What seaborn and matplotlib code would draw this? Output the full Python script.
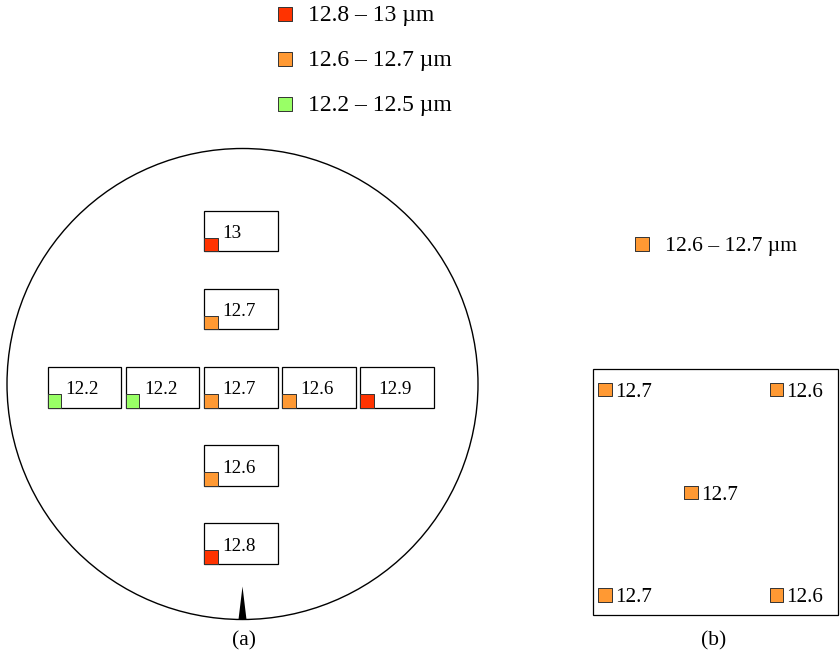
import matplotlib
matplotlib.use("Agg")
import matplotlib.pyplot as plt
from matplotlib.patches import Circle, Rectangle, Polygon
import seaborn as sns
import pandas as pd

sns.set_theme(style="white")
plt.rcParams["font.family"] = ["Liberation Serif", "DejaVu Serif"]
plt.rcParams["text.color"] = "black"

# Thickness classes
bin_labels = ["12.8 – 13 µm", "12.6 – 12.7 µm", "12.2 – 12.5 µm"]
bin_colors = ["#FF3300", "#FF9933", "#99FF66"]

# (a) wafer: die sites on a cross pattern (grid column / row index)
wafer_col = [0, 0, -2, -1, 0, 1, 2, 0, 0]
wafer_row = [-2, -1, 0, 0, 0, 0, 0, 1, 2]
wafer_thk = [13, 12.7, 12.2, 12.2, 12.7, 12.6, 12.9, 12.6, 12.8]
wafer_txt = ["13", "12.7", "12.2", "12.2", "12.7", "12.6", "12.9", "12.6", "12.8"]

# (b) square sample: four corners and centre (relative position 0..1)
sq_u = [0, 1, 0.5, 0, 1]
sq_v = [0, 0, 0.5, 1, 1]
sq_thk = [12.7, 12.6, 12.7, 12.7, 12.6]
sq_txt = ["12.7", "12.6", "12.7", "12.7", "12.6"]


def classify(t):
    if t >= 12.8:
        return bin_labels[0]
    if t >= 12.6:
        return bin_labels[1]
    return bin_labels[2]


palette = dict(zip(bin_labels, bin_colors))

fig = plt.figure(figsize=(8.4, 6.55), dpi=100)
ax = fig.add_axes([0, 0, 1, 1])
ax.set_xlim(0, 840)
ax.set_ylim(655, 0)
ax.set_axis_off()

MK = 13.5          # marker side in px
MS = (MK * 0.72) ** 2

# ---- wafer outline and notch
cx, cy, rad = 242.5, 384, 235.5
ax.add_patch(Circle((cx, cy), rad, fill=False, ec="black", lw=1.0))
ax.add_patch(Polygon([(238.5, cy + rad), (246.5, cy + rad), (242.5, cy + rad - 33)],
                     closed=True, fc="black", ec="none"))

# ---- die boxes
pitch = 78.2
bw, bh = 73.5, 40.5
wafer_df = pd.DataFrame({"col": wafer_col, "row": wafer_row,
                         "thk": wafer_thk, "txt": wafer_txt})
wafer_df["left"] = cx - 38.5 + wafer_df["col"] * pitch
wafer_df["top"] = cy - 17 + wafer_df["row"] * pitch
wafer_df["mx"] = wafer_df["left"] + MK / 2
wafer_df["my"] = wafer_df["top"] + bh - MK / 2
wafer_df["cls"] = wafer_df["thk"].map(classify)

for _, r in wafer_df.iterrows():
    ax.add_patch(Rectangle((r["left"], r["top"]), bw, bh, fill=False,
                           ec="black", lw=0.9))
    ax.text(r["left"] + 18, r["top"] + 27.5, r["txt"], fontsize=13.8,
            ha="left", va="baseline", color="black")

sns.scatterplot(data=wafer_df, x="mx", y="my", hue="cls", palette=palette,
                marker="s", s=MS, edgecolor="#333333", linewidth=0.7,
                legend=False, ax=ax, zorder=3)

# ---- (b) square sample
sx0, sy0, sx1, sy1 = 593, 369, 838, 615
ax.add_patch(Rectangle((sx0, sy0), sx1 - sx0, sy1 - sy0, fill=False,
                       ec="black", lw=0.9))
sq_df = pd.DataFrame({"u": sq_u, "v": sq_v, "thk": sq_thk, "txt": sq_txt})
sq_df["mx"] = 605 + sq_df["u"] * 171.5
sq_df["my"] = 389.5 + sq_df["v"] * 205.5
sq_df["cls"] = sq_df["thk"].map(classify)
for _, r in sq_df.iterrows():
    ax.text(r["mx"] + 10, r["my"] + 7.5, r["txt"], fontsize=15.2,
            ha="left", va="baseline", color="black")
sns.scatterplot(data=sq_df, x="mx", y="my", hue="cls", palette=palette,
                marker="s", s=MS, edgecolor="#333333", linewidth=0.7,
                legend=False, ax=ax, zorder=3)

# ---- legends
leg_y = [14, 58.5, 104]
for lab, y in zip(bin_labels, leg_y):
    ax.scatter([284.5], [y], marker="s", s=MS, c=palette[lab],
               edgecolors="#333333", linewidths=0.7, zorder=3)
    ax.text(308, y + 7.5, lab, fontsize=17, ha="left", va="baseline",
            color="black")

present_b = [lab for lab in bin_labels if lab in set(sq_df["cls"])]
for i, lab in enumerate(present_b):
    y = 243.5 + i * 44.5
    ax.scatter([642], [y], marker="s", s=MS, c=palette[lab],
               edgecolors="#333333", linewidths=0.7, zorder=3)
    ax.text(665, y + 7.5, lab, fontsize=15.6, ha="left", va="baseline",
            color="black")

# ---- panel captions
ax.text(244, 645, "(a)", fontsize=15.5, ha="center", va="baseline",
        color="black")
ax.text(714, 645, "(b)", fontsize=15.5, ha="center", va="baseline",
        color="black")

fig.savefig("out.png", dpi=100, facecolor="white")
